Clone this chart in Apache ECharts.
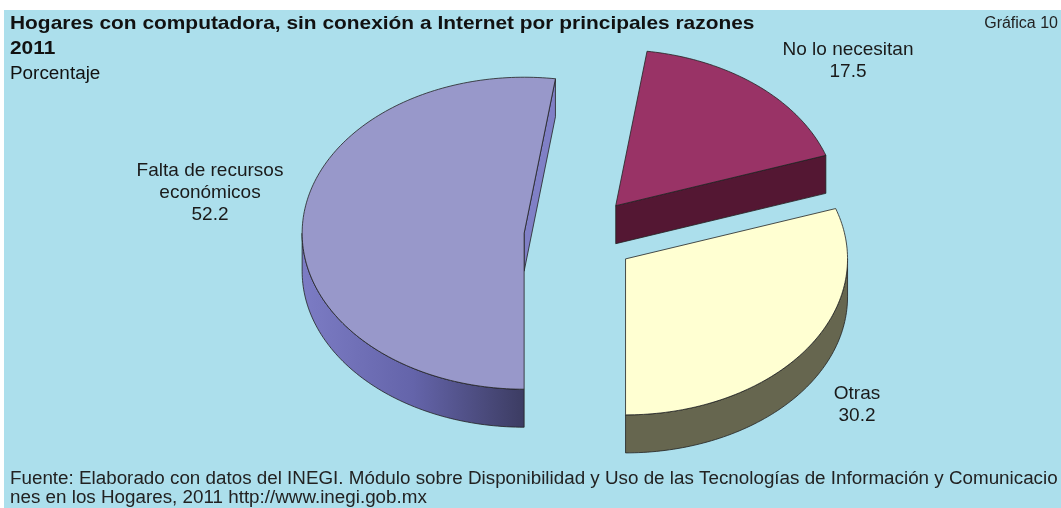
<!DOCTYPE html>
<html>
<head>
<meta charset="utf-8">
<script src="https://cdn.jsdelivr.net/npm/echarts@6/dist/echarts.min.js"></script>
<style>
  html, body { margin: 0; padding: 0; background: #fff; }
  #chart { width: 1061px; height: 508px; }
</style>
</head>
<body>
<div id="chart"></div>
<script>
// data
const categories = ['Falta de recursos\neconómicos', 'No lo necesitan', 'Otras']
const values = [52.2, 17.5, 30.2]

const FONT = '"Liberation Sans", Arial, sans-serif'

// pie geometry (pixels), tilted 3d look
const CX = 580
const CY = 236
const RX = 222
const RY = 156
const DEPTH = 38
const EXPLODE = 56
const START = Math.PI // first slice starts at 6 o'clock, clockwise

const sliceStyle = [
  {
    top: '#9898CA',
    side: new echarts.graphic.LinearGradient(0, 0, 1, 0, [
      { offset: 0, color: '#7C7CC4' },
      { offset: 0.5, color: '#6464AA' },
      { offset: 1, color: '#3C3C62' }
    ]),
    face: '#8080C6'
  },
  { top: '#993366', side: '#541733', face: '#541733' },
  { top: '#FFFFD2', side: '#66664F', face: '#66664F' }
]
const labelPos = [[210, 193], [848, 61], [857, 405]]

const total = values.reduce((a, b) => a + b, 0)
const cum = []
values.reduce((acc, v, i) => { cum[i] = acc; return acc + v }, 0)

function pt(cx, cy, a) {
  return [cx + RX * Math.sin(a), cy - RY * Math.cos(a)]
}

function arc(cx, cy, a0, a1, dy) {
  const pts = []
  const n = Math.max(2, Math.ceil(Math.abs(a1 - a0) / 0.02))
  for (let k = 0; k <= n; k++) {
    const p = pt(cx, cy, a0 + (a1 - a0) * k / n)
    pts.push([p[0], p[1] + dy])
  }
  return pts
}

const stroke = { stroke: '#222', lineWidth: 0.8 }

function renderItem(params, api) {
  const i = params.dataIndex
  const v = api.value(0)
  const a0 = START + cum[i] / total * Math.PI * 2
  const a1 = a0 + v / total * Math.PI * 2
  const mid = (a0 + a1) / 2
  const cx = CX + EXPLODE * Math.sin(mid)
  const cy = CY - EXPLODE * Math.cos(mid) * RY / RX
  const st = sliceStyle[i]
  const children = []

  // outer rim, visible where the arc faces the viewer
  ;[[Math.PI / 2, Math.PI * 1.5], [Math.PI * 2.5, Math.PI * 3.5]].forEach(([lo, hi]) => {
    const b0 = Math.max(a0, lo)
    const b1 = Math.min(a1, hi)
    if (b1 - b0 > 0.001) {
      const pts = arc(cx, cy, b0, b1, 0).concat(arc(cx, cy, b1, b0, DEPTH))
      children.push({ type: 'polygon', shape: { points: pts }, style: Object.assign({ fill: st.side }, stroke) })
    }
  })

  // radial faces
  const faces = []
  if (Math.sin(a0) < -0.01) faces.push(a0)
  if (Math.sin(a1) > 0.01) faces.push(a1)
  faces.forEach(a => {
    const p = pt(cx, cy, a)
    const pts = [[cx, cy], p, [p[0], p[1] + DEPTH], [cx, cy + DEPTH]]
    children.push({ type: 'polygon', shape: { points: pts }, style: Object.assign({ fill: st.face }, stroke) })
  })

  // top
  const top = [[cx, cy]].concat(arc(cx, cy, a0, a1, 0))
  children.push({ type: 'polygon', shape: { points: top }, style: Object.assign({ fill: st.top }, stroke) })

  // label
  children.push({
    type: 'text',
    x: labelPos[i][0],
    y: labelPos[i][1],
    style: {
      text: categories[i] + '\n' + v.toFixed(1),
      fill: '#1a1a1a',
      font: '19px ' + FONT,
      lineHeight: 22,
      align: 'center',
      verticalAlign: 'middle'
    }
  })

  return { type: 'group', children }
}

const chart = echarts.init(document.getElementById('chart'))
chart.setOption({
  animation: false,
  backgroundColor: '#fff',
  graphic: [
    { type: 'rect', z: -10, shape: { x: 4, y: 10, width: 1057, height: 498 }, style: { fill: '#ACDFEC' } },
    {
      type: 'text', x: 10, y: 14, scaleX: 1.1,
      style: { text: 'Hogares con computadora, sin conexión a Internet por principales razones', font: 'bold 19px ' + FONT, fill: '#111', verticalAlign: 'top' }
    },
    { type: 'text', x: 10, y: 39, scaleX: 1.1, style: { text: '2011', font: 'bold 19px ' + FONT, fill: '#111', verticalAlign: 'top' } },
    { type: 'text', x: 10, y: 65, scaleX: 1.05, style: { text: 'Porcentaje', font: '18px ' + FONT, fill: '#111', verticalAlign: 'top' } },
    { type: 'text', x: 1058, y: 16, style: { text: 'Gráfica 10', font: '16px ' + FONT, fill: '#222', align: 'right', verticalAlign: 'top' } },
    {
      type: 'text', x: 10, y: 470, scaleX: 1.045,
      style: {
        text: 'Fuente: Elaborado con datos del INEGI. Módulo sobre Disponibilidad y Uso de las Tecnologías de Información y Comunicacio\nnes en los Hogares, 2011 http://www.inegi.gob.mx',
        font: '18px ' + FONT, lineHeight: 19, fill: '#222', verticalAlign: 'top'
      }
    }
  ],
  series: [{
    type: 'custom',
    coordinateSystem: 'none',
    renderItem,
    data: values.map((v, i) => ({ name: categories[i], value: [v] }))
  }]
})
</script>
</body>
</html>
